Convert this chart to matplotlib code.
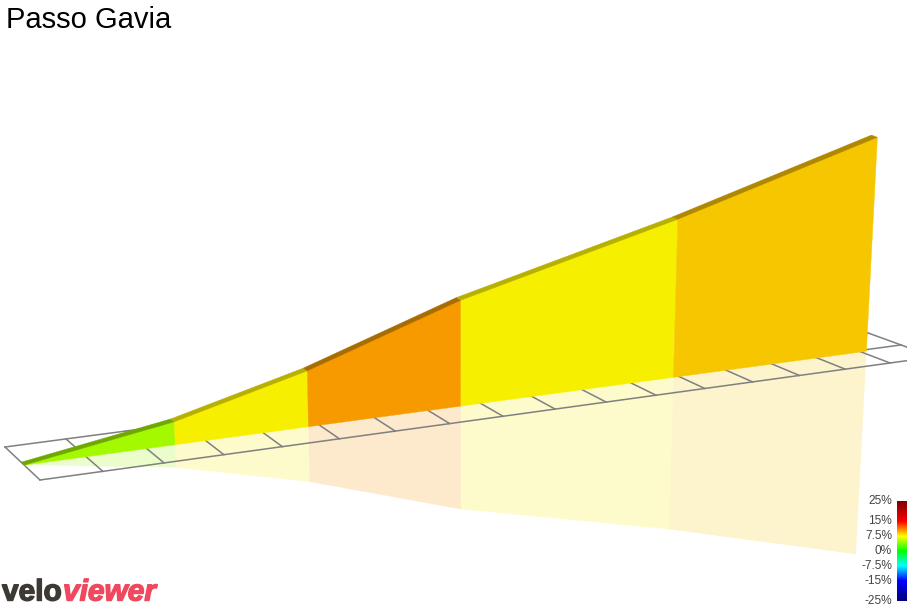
import numpy as np
import matplotlib
matplotlib.use('Agg')
import matplotlib.pyplot as plt
import matplotlib.patheffects as pe
from matplotlib.colors import LinearSegmentedColormap
from matplotlib.patches import Polygon

plt.rcParams['font.family'] = ['Liberation Sans', 'DejaVu Sans']

# climb profile
road_km = [0, 2.48, 4.8, 7.62, 11.88, 16.12]
road_elev = [1261, 1391, 1584, 1888, 2232, 2622]
grid_km = list(range(0, 18))

legend_values = [25, 15, 7.5, 0, -7.5, -15, -25]
legend_labels = ['25%', '15%', '7.5%', '0%', '-7.5%', '-15%', '-25%']
legend_colors = ['#00007f', '#0000ff', '#00ffff', '#00ff00', '#ffff00', '#ff0000', '#7f0000']

wall_colors = ['#a4f900', '#f6ef00', '#f79a00', '#f6ef00', '#f6c700']
strip_colors = ['#6fa800', '#b8b000', '#a86c00', '#b8b000', '#b08800']

# camera: the scene is drawn in pixels of the 907x607 frame
VP_X = 460
VP_Y = 8243
HEIGHT_K = 2.33e-5
ROAD_SIDE = 0.1
STRIP_SIDE = -0.18


def ground(d, s):
    # s = 1 is the front line of the grid, s = -1 the back line
    d = np.asarray(d, dtype=float)
    fx = (40 + 64.05 * d) / (1 + 0.01227 * d)
    fy = (480 - 2.86 * d) / (1 + 0.01227 * d)
    bx = (5 + 61.84 * d) / (1 + 0.01276 * d)
    by = (447 - 2.46 * d) / (1 + 0.01276 * d)
    t = (s + 1) / 2
    return bx + (fx - bx) * t, by + (fy - by) * t


def project(d, s, z):
    d = np.asarray(d, dtype=float)
    z = np.asarray(z, dtype=float)
    x, y = ground(d, s)
    tau = HEIGHT_K * z / (1 + 0.0125 * d)
    return (x - VP_X * tau) / (1 - tau), (y - VP_Y * tau) / (1 - tau)


fig = plt.figure(figsize=(9.07, 6.07), dpi=100)
ax = fig.add_axes([0, 0, 1, 1])
ax.set_xlim(0, 907)
ax.set_ylim(607, 0)
ax.axis('off')

km = np.array(road_km)
gain = np.array(road_elev) - road_elev[0]

base_x, base_y = project(km, ROAD_SIDE, 0 * gain)
top_x, top_y = project(km, ROAD_SIDE, gain)
low_x, low_y = project(km, ROAD_SIDE, -gain)
back_x, back_y = project(km, ROAD_SIDE + STRIP_SIDE, gain)

# reflection goes under the grid
for i in range(len(wall_colors)):
    pts = [(base_x[i], base_y[i]), (base_x[i + 1], base_y[i + 1]),
           (low_x[i + 1], low_y[i + 1]), (low_x[i], low_y[i])]
    ax.add_patch(Polygon(pts, closed=True, facecolor=wall_colors[i], edgecolor='none', alpha=0.2, zorder=1))

grid_color = '#808080'
grid_d = np.array(grid_km)
fx, fy = ground(grid_d, 1)
bx, by = ground(grid_d, -1)
mx, my = ground(grid_d[16:], 0)
ax.plot(fx, fy, color=grid_color, lw=1.1, zorder=2)
ax.plot(bx, by, color=grid_color, lw=1.1, zorder=2)
ax.plot(mx, my, color=grid_color, lw=1.1, zorder=2)
for i in range(len(grid_km)):
    ax.plot([bx[i], fx[i]], [by[i], fy[i]], color=grid_color, lw=1.1, zorder=2)

# the wall and the dark strip on top of it
for i in range(len(wall_colors)):
    pts = [(base_x[i], base_y[i]), (base_x[i + 1], base_y[i + 1]),
           (top_x[i + 1], top_y[i + 1]), (top_x[i], top_y[i])]
    ax.add_patch(Polygon(pts, closed=True, facecolor=wall_colors[i], edgecolor=wall_colors[i], lw=0.3, zorder=3))
    pts = [(top_x[i], top_y[i]), (top_x[i + 1], top_y[i + 1]),
           (back_x[i + 1], back_y[i + 1]), (back_x[i], back_y[i])]
    ax.add_patch(Polygon(pts, closed=True, facecolor=strip_colors[i], edgecolor=strip_colors[i], lw=0.3, zorder=4))

ax.text(6, 28, 'Passo Gavia', fontsize=21, color='black', ha='left', va='baseline')

# gradient legend
scale = LinearSegmentedColormap.from_list(
    'gradient', [((v + 25) / 50, c) for v, c in zip(legend_values[::-1], legend_colors)])
ramp = np.linspace(1, 0, 100).reshape(-1, 1)
ax.imshow(ramp, cmap=scale, extent=(897, 907, 601.5, 502), aspect='auto', zorder=5)
ax.set_xlim(0, 907)
ax.set_ylim(607, 0)
label_y = [501, 521, 536, 551, 566, 581, 601]
for lab, y in zip(legend_labels, label_y):
    ax.text(892, y, lab, fontsize=8.6, color='#444444', ha='right', va='center', zorder=5)

# logo
stroke = [pe.withStroke(linewidth=1.0, foreground='#3d3935')]
ax.text(2, 600.5, 'velo', fontsize=21.5, fontweight='bold', color='#3d3935', ha='left', va='baseline', path_effects=stroke)
stroke = [pe.withStroke(linewidth=1.0, foreground='#f0485f')]
ax.text(63, 600.5, 'viewer', fontsize=21.5, fontweight='bold', style='italic', color='#f0485f', ha='left', va='baseline', path_effects=stroke)

fig.savefig('out.png', dpi=100)
